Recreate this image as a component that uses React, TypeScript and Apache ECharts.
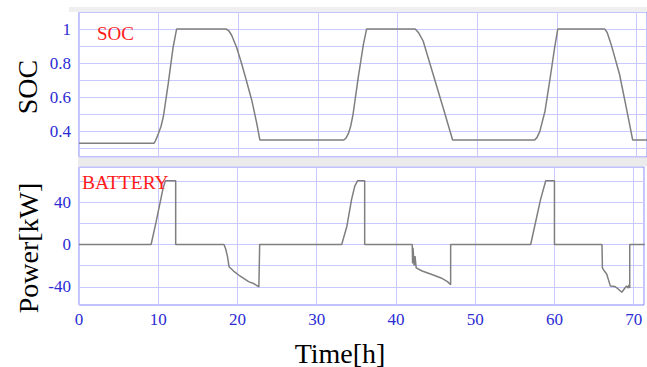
import React, { useEffect, useRef } from "react";
import * as echarts from "echarts";

// SOC curve (time in hours, state of charge)
const socTime = [0, 9.4, 9.6, 9.95, 10.3, 10.6, 11.2, 11.8, 12.25, 18.5, 18.8, 19.15, 19.8, 20.4, 21.0, 21.7, 22.3, 22.7, 33.25, 33.5, 33.8, 34.1, 34.4, 35.05, 35.7, 36.1, 42.2, 42.6, 43.2, 44.45, 45.7, 46.9, 57.2, 57.5, 57.85, 58.5, 59.1, 59.7, 60.1, 66.0, 66.3, 66.8, 67.85, 68.7, 69.5, 71.4];
const socValue = [0.33, 0.33, 0.345, 0.385, 0.43, 0.49, 0.68, 0.89, 1, 1, 0.99, 0.965, 0.89, 0.8, 0.7, 0.58, 0.45, 0.35, 0.35, 0.36, 0.385, 0.43, 0.5, 0.715, 0.91, 1, 1, 0.98, 0.93, 0.735, 0.54, 0.35, 0.35, 0.365, 0.4, 0.52, 0.7, 0.89, 1, 1, 0.98, 0.91, 0.735, 0.54, 0.35, 0.35];

// Battery power (time in hours, kW)
const powerTime = [0, 9.1, 9.75, 10.58, 10.9, 12.2, 12.2, 18.3, 18.5, 18.73, 18.94, 19.5, 20.2, 21.4, 22.1, 22.5, 22.7, 22.8, 33.15, 33.8, 34.4, 34.8, 35.15, 36.05, 36.05, 42.05, 42.1, 42.15, 42.3, 42.4, 42.55, 43.3, 44.45, 45.7, 46.5, 46.9, 46.9, 57.0, 57.6, 58.25, 58.9, 60.0, 60.0, 66.0, 66.05, 66.3, 66.6, 67.05, 67.6, 67.9, 68.5, 68.9, 69.1, 69.3, 69.4, 69.5, 69.5, 71.4];
const powerValue = [0, 0, 22, 52, 60, 60, 0, 0, -4, -11, -21, -25, -29, -35, -37, -39, -40, 0, 0, 17, 42.5, 55, 60, 60, 0, 0, -18, -3, -20, -11, -22, -25, -28, -31.5, -35, -38, 0, 0, 20.5, 42.5, 60, 60, 0, 0, -22, -25, -28, -39, -39.5, -41, -45, -41, -39, -41, -38, -41, 0, 0];

const xTickLabels = [0, 10, 20, 30, 40, 50, 60, 70];
const socGridValues = [0.3, 0.4, 0.5, 0.6, 0.7, 0.8, 0.9, 1.0];
const socTickLabels = [0.4, 0.6, 0.8, 1];
const powerGridValues = [-40, -20, 0, 20, 40, 60];
const powerTickLabels = [-40, 0, 40];

const FONT = "Liberation Serif";
const LABEL_BLUE = "#2b2bd4";
const GRID_LINE = "#c9c9ff";
const BORDER = "#8585ff";

export default function App() {
  const ref = useRef<HTMLDivElement>(null);
  useEffect(() => {
    if (!ref.current) return;
    const chart = echarts.init(ref.current, undefined, { renderer: "svg" });
    const socData = socTime.map((t, i) => [t, socValue[i]]);
    const powerData = powerTime.map((t, i) => [t, powerValue[i]]);
    const markLines = (vals: number[]) => ({
      silent: true,
      symbol: ["none", "none"],
      z: 1,
      label: { show: false },
      lineStyle: { color: GRID_LINE, type: "solid", width: 1 },
      emphasis: { disabled: true },
      data: vals.map((v) => ({ yAxis: v })),
    });
    const xAxisBase = {
      type: "value",
      min: 0,
      max: 71.3,
      interval: 10,
      axisLine: { show: false },
      axisTick: { show: false },
      splitLine: { show: true, lineStyle: { color: GRID_LINE, width: 1 } },
    };
    chart.setOption({
      animation: false,
      backgroundColor: "#ffffff",
      grid: [
        { left: 79, top: 12, right: -2, height: 145, show: true, backgroundColor: "#fff", borderColor: BORDER, borderWidth: 1 },
        { left: 79, top: 167, right: -2, height: 138, show: true, backgroundColor: "#fff", borderColor: BORDER, borderWidth: 1 },
      ],
      xAxis: [
        { ...xAxisBase, gridIndex: 0, axisLabel: { show: false } },
        {
          ...xAxisBase,
          gridIndex: 1,
          axisLabel: {
            show: true,
            color: LABEL_BLUE,
            fontFamily: FONT,
            fontSize: 17,
            margin: 6,
            formatter: (v: number) => (xTickLabels.includes(Math.round(v * 1000) / 1000) ? String(v) : ""),
          },
        },
      ],
      yAxis: [
        {
          type: "value",
          gridIndex: 0,
          min: 0.25,
          max: 1.1,
          interval: 0.05,
          axisLine: { show: false },
          axisTick: { show: false },
          splitLine: { show: false },
          axisLabel: {
            color: LABEL_BLUE,
            fontFamily: FONT,
            fontSize: 17,
            margin: 8,
            formatter: (v: number) => {
              const r = Math.round(v * 100) / 100;
              return socTickLabels.includes(r) ? String(r) : "";
            },
          },
        },
        {
          type: "value",
          gridIndex: 1,
          min: -57,
          max: 73,
          interval: 1,
          axisLine: { show: false },
          axisTick: { show: false },
          splitLine: { show: false },
          axisLabel: {
            color: LABEL_BLUE,
            fontFamily: FONT,
            fontSize: 17,
            margin: 8,
            formatter: (v: number) => (powerTickLabels.includes(Math.round(v)) ? String(Math.round(v)) : ""),
          },
        },
      ],
      series: [
        {
          type: "line",
          xAxisIndex: 0,
          yAxisIndex: 0,
          data: socData,
          showSymbol: false,
          symbol: "none",
          lineStyle: { color: "#7f7f7f", width: 1.5 },
          markLine: markLines(socGridValues),
        },
        {
          type: "line",
          xAxisIndex: 1,
          yAxisIndex: 1,
          data: powerData,
          showSymbol: false,
          symbol: "none",
          lineStyle: { color: "#7f7f7f", width: 1.5 },
          markLine: markLines(powerGridValues),
        },
      ],
      graphic: [
        { type: "rect", shape: { x: 69, y: 7, width: 578, height: 5 }, style: { fill: "#efefef" }, silent: true },
        { type: "rect", shape: { x: 78, y: 157.5, width: 569, height: 9 }, style: { fill: "#ebebeb" }, silent: true },
        {
          type: "text",
          x: 27,
          y: 87,
          rotation: Math.PI / 2,
          style: { text: "SOC", fill: "#000", font: `28px ${FONT}`, align: "center", verticalAlign: "middle" },
        },
        {
          type: "text",
          x: 28,
          y: 248,
          rotation: Math.PI / 2,
          style: { text: "Power[kW]", fill: "#000", font: `28px ${FONT}`, align: "center", verticalAlign: "middle" },
        },
        {
          type: "text",
          x: 340,
          y: 353,
          style: { text: "Time[h]", fill: "#000", font: `28px ${FONT}`, align: "center", verticalAlign: "middle" },
        },
        {
          type: "text",
          x: 97,
          y: 33,
          z: 10,
          style: { text: "SOC", fill: "#ff1a1a", font: `19px ${FONT}`, align: "left", verticalAlign: "middle" },
        },
        {
          type: "text",
          x: 82,
          y: 182,
          z: 10,
          style: { text: "BATTERY", fill: "#ff1a1a", font: `19.5px ${FONT}`, align: "left", verticalAlign: "middle" },
        },
      ],
    });
    return () => chart.dispose();
  }, []);
  return <div ref={ref} style={{ position: "fixed", left: 0, top: 0, width: 647, height: 367 }} />;
}
